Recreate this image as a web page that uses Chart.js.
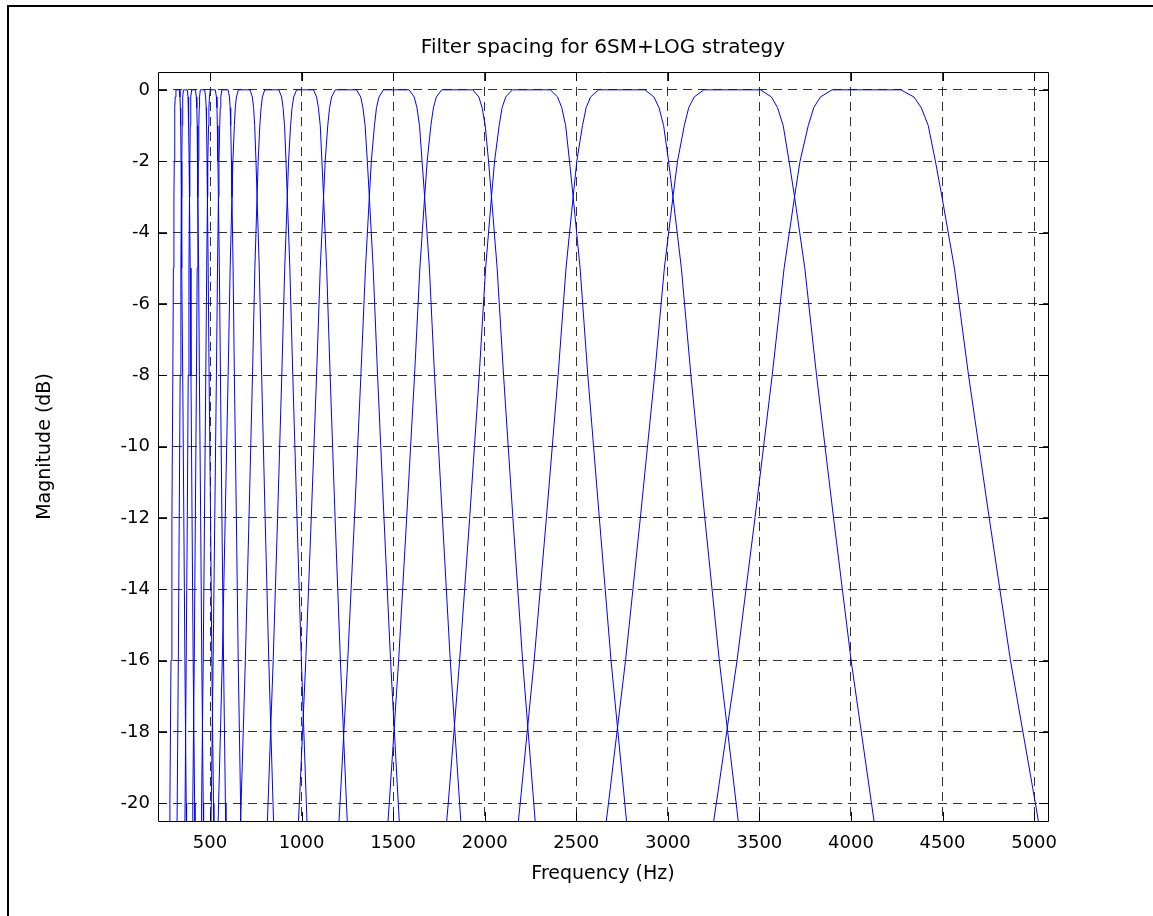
<!DOCTYPE html>
<html>
<head>
<meta charset="utf-8">
<title>Filter spacing for 6SM+LOG strategy</title>
<script src="https://cdn.jsdelivr.net/npm/chart.js@4.4.1/dist/chart.umd.min.js"></script>
<style>
  html, body { margin: 0; padding: 0; background: #fff; }
  #wrap { width: 1153px; height: 916px; }
</style>
</head>
<body>
<div id="wrap"><canvas id="filterChart" width="1153" height="916"></canvas></div>
<script>
// magnitude levels (dB) at which each skirt is sampled
const riseDb = [-21, -20, -16, -12, -8, -5, -3, -2, -1, -0.5, -0.2, 0];
const fallDb = [0, -0.2, -0.5, -1, -2, -3, -5, -8, -12, -16, -20, -21];

// frequency (Hz) of the lower skirt of each band filter, one row per channel
const riseHz = [
  [280, 281, 287, 292, 297, 300, 303, 305, 307, 308, 310, 314],
  [319, 321, 327, 332, 337, 341, 344, 346, 348, 350, 352, 355],
  [362, 364, 370, 376, 381, 385, 388, 390, 392, 394, 396, 400],
  [405, 406, 414, 420, 426, 430, 434, 436, 439, 441, 443, 447],
  [452, 454, 463, 470, 477, 482, 486, 488, 492, 494, 497, 501],
  [504, 507, 517, 526, 535, 541, 546, 549, 553, 556, 559, 565],
  [542, 547, 567, 583, 599, 610, 620, 625, 633, 638, 644, 655],
  [663, 670, 693, 713, 732, 745, 757, 763, 772, 779, 786, 799],
  [810, 817, 845, 869, 892, 908, 922, 929, 940, 948, 957, 973],
  [978, 988, 1023, 1053, 1082, 1102, 1120, 1129, 1143, 1153, 1164, 1184],
  [1199, 1210, 1252, 1289, 1324, 1349, 1370, 1381, 1398, 1409, 1423, 1447],
  [1465, 1479, 1530, 1574, 1617, 1646, 1672, 1686, 1706, 1720, 1736, 1765],
  [1784, 1801, 1863, 1918, 1970, 2005, 2037, 2054, 2079, 2095, 2115, 2151],
  [2174, 2194, 2270, 2337, 2401, 2444, 2483, 2503, 2534, 2554, 2578, 2622],
  [2652, 2676, 2769, 2850, 2928, 2981, 3028, 3053, 3090, 3114, 3144, 3197],
  [3236, 3265, 3378, 3476, 3570, 3635, 3692, 3722, 3767, 3797, 3833, 3897]
];

// frequency (Hz) of the upper skirt of each band filter
const fallHz = [
  [333, 336, 338, 340, 342, 344, 347, 351, 357, 363, 370, 372],
  [376, 380, 382, 384, 386, 388, 392, 396, 402, 408, 416, 418],
  [421, 425, 428, 430, 432, 434, 438, 442, 449, 455, 463, 465],
  [471, 476, 479, 481, 484, 486, 490, 495, 503, 510, 519, 521],
  [529, 535, 538, 540, 543, 546, 551, 557, 565, 574, 584, 587],
  [599, 606, 610, 613, 617, 620, 626, 633, 644, 654, 667, 670],
  [719, 731, 738, 744, 751, 757, 769, 782, 801, 821, 844, 850],
  [876, 891, 899, 907, 915, 922, 936, 952, 975, 999, 1026, 1033],
  [1065, 1082, 1092, 1102, 1111, 1120, 1137, 1156, 1183, 1212, 1245, 1254],
  [1300, 1323, 1335, 1347, 1359, 1370, 1391, 1415, 1450, 1486, 1528, 1539],
  [1587, 1615, 1630, 1644, 1658, 1672, 1698, 1726, 1769, 1812, 1863, 1876],
  [1935, 1968, 1986, 2003, 2021, 2037, 2068, 2103, 2154, 2207, 2268, 2283],
  [2358, 2398, 2421, 2442, 2463, 2483, 2521, 2563, 2626, 2690, 2765, 2784],
  [2875, 2924, 2952, 2977, 3004, 3028, 3074, 3126, 3202, 3281, 3373, 3396],
  [3506, 3566, 3599, 3630, 3662, 3692, 3748, 3812, 3905, 4001, 4112, 4140],
  [4272, 4344, 4384, 4422, 4461, 4497, 4565, 4642, 4755, 4871, 5007, 5040]
];

const freqTicks = [500, 1000, 1500, 2000, 2500, 3000, 3500, 4000, 4500, 5000];
const dbTicks = [0, -2, -4, -6, -8, -10, -12, -14, -16, -18, -20];

const FONT = "'DejaVu Sans', Verdana, sans-serif";
Chart.defaults.font.family = FONT;
Chart.defaults.color = '#000';

const datasets = riseHz.map((rise, i) => ({
  data: rise.map((f, j) => ({ x: f, y: riseDb[j] }))
    .concat(fallHz[i].map((f, j) => ({ x: f, y: fallDb[j] }))),
  borderColor: '#0000ff',
  borderWidth: 1,
  pointRadius: 0,
  showLine: true,
  tension: 0,
  fill: false
}));

// white page with the figure frame around it
const figureFrame = {
  id: 'figureFrame',
  afterLayout(chart) {
    // centre the title over the axes rather than the whole canvas
    const t = chart.titleBlock;
    if (t) {
      t.left = chart.chartArea.left;
      t.right = chart.chartArea.right;
    }
  },
  beforeDraw(chart) {
    const ctx = chart.ctx;
    ctx.save();
    ctx.fillStyle = '#fff';
    ctx.fillRect(0, 0, chart.width, chart.height);
    ctx.strokeStyle = '#000';
    ctx.lineWidth = 2;
    ctx.strokeRect(8, 6, chart.width + 40, chart.height + 40);
    ctx.restore();
  }
};

// axes box with inward tick marks on all four sides
const axesBox = {
  id: 'axesBox',
  afterDatasetsDraw(chart) {
    const { ctx, chartArea: a, scales: { x, y } } = chart;
    const len = 9;
    ctx.save();
    ctx.strokeStyle = '#000';
    ctx.lineWidth = 1;
    ctx.beginPath();
    ctx.rect(Math.round(a.left) + 0.5, Math.round(a.top) + 0.5,
      Math.round(a.right - a.left), Math.round(a.bottom - a.top));
    x.ticks.forEach(t => {
      const px = Math.round(x.getPixelForValue(t.value)) + 0.5;
      ctx.moveTo(px, a.bottom); ctx.lineTo(px, a.bottom - len);
      ctx.moveTo(px, a.top); ctx.lineTo(px, a.top + len);
    });
    y.ticks.forEach(t => {
      const py = Math.round(y.getPixelForValue(t.value)) + 0.5;
      ctx.moveTo(a.left, py); ctx.lineTo(a.left + len, py);
      ctx.moveTo(a.right, py); ctx.lineTo(a.right - len, py);
    });
    ctx.stroke();
    ctx.restore();
  }
};

new Chart(document.getElementById('filterChart'), {
  type: 'scatter',
  data: { datasets },
  plugins: [figureFrame, axesBox],
  options: {
    responsive: false,
    animation: false,
    devicePixelRatio: 1,
    layout: { padding: { left: 0, right: 105, top: 0, bottom: 0 } },
    plugins: {
      legend: { display: false },
      tooltip: { enabled: false },
      title: {
        display: true,
        text: 'Filter spacing for 6SM+LOG strategy',
        color: '#000',
        font: { size: 20, weight: 'normal' },
        padding: { top: 36, bottom: 12 }
      }
    },
    scales: {
      x: {
        type: 'linear',
        min: 216,
        max: 5076,
        afterBuildTicks: s => { s.ticks = freqTicks.map(v => ({ value: v })); },
        afterFit: s => { s.height = 95; },
        grid: { color: 'rgba(0,0,0,0.8)', lineWidth: 1, drawTicks: false },
        border: { display: false, dash: [9, 6] },
        ticks: { padding: 12, font: { size: 18 }, maxRotation: 0, autoSkip: false, callback: v => String(v) },
        title: { display: true, text: 'Frequency (Hz)', font: { size: 19 }, padding: { top: 0, bottom: 31 } }
      },
      y: {
        type: 'linear',
        min: -20.5,
        max: 0.5,
        afterBuildTicks: s => { s.ticks = dbTicks.map(v => ({ value: v })); },
        afterFit: s => { s.width = 158; },
        grid: { color: 'rgba(0,0,0,0.8)', lineWidth: 1, drawTicks: false },
        border: { display: false, dash: [9, 6] },
        ticks: { padding: 8, font: { size: 18 }, autoSkip: false, callback: v => String(v) },
        title: { display: true, text: 'Magnitude (dB)', font: { size: 19 }, padding: { top: 34, bottom: 0 } }
      }
    }
  }
});
</script>
</body>
</html>
